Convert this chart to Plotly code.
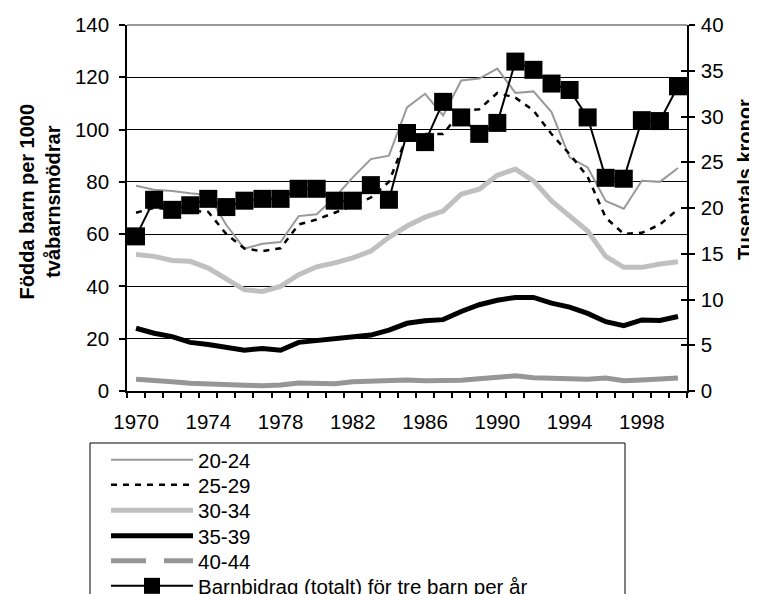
import plotly.graph_objects as go

years = list(range(1970, 2001))
tick_years = [1970, 1974, 1978, 1982, 1986, 1990, 1994, 1998]

a20_24 = [78.5, 77.0, 76.5, 75.6, 75.0, 63.5, 54.5, 56.3, 57.0, 66.9, 67.6, 74.0, 81.7, 88.7, 90.0,
          108.5, 113.7, 105.4, 118.8, 119.5, 123.3, 114.0, 114.6, 106.7, 89.4, 85.5, 72.7, 69.7, 80.4, 80.0, 85.3]
a25_29 = [68.2, 70.1, 69.5, 69.0, 68.5, 60.0, 54.5, 53.5, 54.6, 63.7, 65.6, 68.2, 70.8, 74.0, 80.0,
          97.5, 98.3, 98.3, 107.0, 107.8, 114.0, 112.2, 107.3, 98.3, 90.6, 82.0, 66.3, 60.1, 60.5, 63.7, 69.5]
a30_34 = [52.2, 51.5, 49.9, 49.6, 47.0, 42.6, 38.7, 38.1, 40.0, 44.5, 47.5, 49.0, 50.9, 53.5, 58.8,
          63.1, 66.5, 68.8, 75.3, 77.2, 82.5, 84.9, 80.4, 72.7, 66.9, 61.2, 51.5, 47.3, 47.3, 48.6, 49.4]
a35_39 = [24.0, 22.1, 20.8, 18.6, 17.8, 16.5, 15.6, 16.3, 15.6, 18.6, 19.3, 20.1, 20.5, 21.4, 23.3,
          25.9, 26.9, 27.3, 30.4, 33.0, 34.7, 35.8, 35.8, 33.6, 32.1, 29.7, 26.5, 25.0, 27.2, 27.0, 28.5]
a40_44 = [4.5, 4.2, 3.5, 3.0, 2.6, 2.5, 2.2, 2.0, 2.3, 3.1, 2.8, 2.8, 3.5, 3.7, 4.1,
          4.2, 3.9, 4.0, 4.1, 4.7, 5.4, 5.8, 5.1, 5.0, 4.7, 4.5, 5.0, 3.9, 4.2, 4.7, 5.0]
barnbidrag = [16.9, 20.9, 19.8, 20.3, 21.0, 20.1, 20.8, 21.0, 21.0, 22.1, 22.1, 20.8, 20.8, 22.5, 20.9,
              28.2, 27.2, 31.6, 29.9, 28.1, 29.3, 36.0, 35.1, 33.6, 32.9, 29.9, 23.3, 23.2, 29.6, 29.5, 33.3]

FONT = "Liberation Sans, Arial, sans-serif"
FS = 20.5

# The page body has an 8px margin, so the figure is drawn 8px in from the window edge.
OFF = 8
W, H = 757 - OFF, 594 - OFF
# plot area in window pixels
PL, PR, PT, PB = 127, 687, 25, 391
PW, PH = PR - PL, PB - PT


def px_x(x):
    return (x - PL) / PW


def px_y(y):
    return (PB - y) / PH


fig = go.Figure()
fig.add_trace(go.Scatter(x=years, y=a20_24, name="20-24", mode="lines", legend="legend",
                         line=dict(color="#999999", width=2)))
fig.add_trace(go.Scatter(x=years, y=a25_29, name="25-29", mode="lines", legend="legend2",
                         line=dict(color="black", width=2.5, dash="6px,6px")))
fig.add_trace(go.Scatter(x=years, y=a30_34, name="30-34", mode="lines", legend="legend3",
                         line=dict(color="#c0c0c0", width=5)))
fig.add_trace(go.Scatter(x=years, y=a35_39, name="35-39", mode="lines", legend="legend4",
                         line=dict(color="black", width=5)))
fig.add_trace(go.Scatter(x=years, y=a40_44, name="40-44", mode="lines", showlegend=False,
                         line=dict(color="#969696", width=5)))
fig.add_trace(go.Scatter(x=[None], y=[None], name="40-44", mode="lines", legend="legend5",
                         line=dict(color="#969696", width=5, dash="35px,18px")))
fig.add_trace(go.Scatter(x=years, y=barnbidrag, name="Barnbidrag (totalt) för tre barn per år",
                         mode="lines+markers", yaxis="y2", legend="legend6",
                         line=dict(color="black", width=2),
                         marker=dict(symbol="square", size=18, color="black")))
fig.add_trace(go.Scatter(x=[None], y=[None], yaxis="y3", showlegend=False))

boundaries = [y - 0.5 for y in years] + [2000.5]

row_y = [460, 485, 510.5, 536, 561, 586]
leg_common = dict(x=px_x(106), xanchor="left", yanchor="middle", bgcolor="rgba(0,0,0,0)",
                  borderwidth=0, font=dict(size=FS), itemwidth=82, tracegroupgap=0)
legends = {}
for i, ry in enumerate(row_y):
    key = "legend" if i == 0 else f"legend{i + 1}"
    legends[key] = dict(y=px_y(ry), **leg_common)

fig.update_layout(
    width=W, height=H,
    margin=dict(l=PL - OFF, r=757 - PR, t=PT - OFF, b=594 - PB, pad=0, autoexpand=False),
    paper_bgcolor="white", plot_bgcolor="white",
    font=dict(family=FONT, size=FS, color="black"),
    showlegend=True,
    xaxis=dict(range=[1969.5, 2000.5], tickvals=tick_years, ticktext=[str(t) for t in tick_years],
               ticks="", showgrid=False, zeroline=False, ticklabelstandoff=12,
               showline=True, linecolor="black", linewidth=1.5,
               minor=dict(tickvals=boundaries, ticks="outside", ticklen=5, tickcolor="black", tickwidth=1.5,
                          showgrid=False),
               tickfont=dict(size=FS)),
    yaxis=dict(range=[0, 140], dtick=20, ticks="outside", ticklen=6, tickcolor="black", tickwidth=1.5,
               showgrid=True, gridcolor="black", gridwidth=1, zeroline=False, ticklabelstandoff=6,
               showline=True, linecolor="black", linewidth=1.5, tickfont=dict(size=FS)),
    yaxis2=dict(range=[0, 40], dtick=5, overlaying="y", side="right", anchor="x",
                ticks="outside", ticklen=6, tickcolor="black", tickwidth=1.5, ticklabelstandoff=2,
                showgrid=False, zeroline=False, showline=True, linecolor="black", linewidth=1.5,
                tickfont=dict(size=FS)),
    yaxis3=dict(range=[0, 40], dtick=5, overlaying="y", side="right", anchor="x",
                ticks="inside", ticklen=6, tickcolor="black", tickwidth=1.5, showticklabels=False,
                showgrid=False, zeroline=False, showline=False),
    shapes=[
        dict(type="line", xref="paper", yref="paper", x0=0, x1=1, y0=1, y1=1,
             line=dict(color="#999999", width=2)),
        dict(type="rect", xref="paper", yref="paper",
             x0=px_x(90), x1=px_x(625), y0=px_y(615), y1=px_y(443),
             line=dict(color="black", width=1), fillcolor="rgba(0,0,0,0)"),
    ],
    annotations=[
        dict(text="<b>Födda barn per 1000<br>tvåbarnsmödrar</b>", textangle=-90,
             xref="paper", yref="paper", x=px_x(39.5), y=px_y(202),
             xanchor="center", yanchor="middle", showarrow=False, font=dict(size=20)),
        dict(text="<b>Tusentals kronor</b>", textangle=-90,
             xref="paper", yref="paper", x=px_x(745), y=px_y(180),
             xanchor="center", yanchor="middle", showarrow=False, font=dict(size=20)),
    ],
    **legends,
)

fig.write_html("out.html")
